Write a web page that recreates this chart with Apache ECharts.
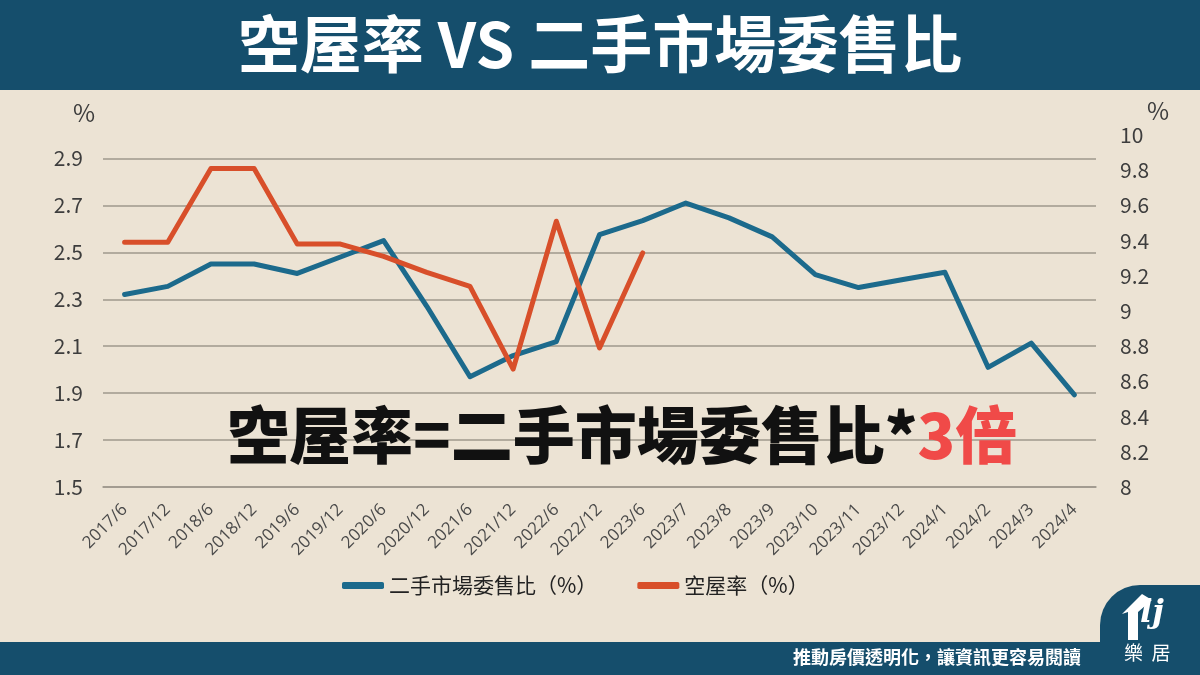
<!DOCTYPE html>
<html>
<head>
<meta charset="utf-8">
<script src="https://cdn.jsdelivr.net/npm/echarts@6/dist/echarts.min.js"></script>
<style>
html,body{margin:0;padding:0;background:#ece3d4;}
#chart{width:1200px;height:675px;}
</style>
</head>
<body>
<div id="chart"></div>
<script>
const categories = ['2017/6','2017/12','2018/6','2018/12','2019/6','2019/12','2020/6','2020/12','2021/6','2021/12','2022/6','2022/12','2023/6','2023/7','2023/8','2023/9','2023/10','2023/11','2023/12','2024/1','2024/2','2024/3','2024/4'];
const consignRatio = [2.32,2.355,2.45,2.45,2.41,2.48,2.55,2.27,1.97,2.06,2.12,2.575,2.635,2.71,2.647,2.566,2.405,2.35,2.383,2.415,2.01,2.113,1.893];
const vacancyRate = [9.39,9.39,9.81,9.81,9.38,9.38,9.31,9.22,9.14,8.67,9.51,8.79,9.33];
const leftTicks = {min:1.5, max:3.0, interval:0.2};
const rightTicks = {min:8, max:10, interval:0.2};
const seriesNames = ['二手市場委售比（%）','空屋率（%）'];

const BLUE = '#1c6a8c', RED = '#d84f2a', TEAL = '#154e6c', GRID = '#9f988d';
const FONT = '"Noto Sans CJK TC","Noto Sans",sans-serif';

const chart = echarts.init(document.getElementById('chart'));
chart.setOption({
  backgroundColor: '#ece3d4',
  textStyle: {fontFamily: FONT},
  animation: false,
  title: {
    text: '空屋率 VS 二手市場委售比',
    left: 'center', top: 8,
    textStyle: {color: '#ffffff', fontSize: 62, fontWeight: 'bold', fontFamily: FONT}
  },
  graphic: [
    {type: 'rect', z: -1, shape: {x: 0, y: 0, width: 1200, height: 90}, style: {fill: TEAL}},
    {type: 'rect', z: -1, shape: {x: 0, y: 642, width: 1200, height: 33}, style: {fill: TEAL}},
    {type: 'rect', z: -1, shape: {x: 1100, y: 585, width: 110, height: 100, r: [40, 0, 0, 0]}, style: {fill: TEAL}},
    {type: 'text', left: 793, top: 648, style: {text: '推動房價透明化，讓資訊更容易閱讀', fill: '#ffffff', font: 'bold 18px ' + FONT}},
    {type: 'text', left: 1124, top: 643, style: {text: '樂  居', fill: '#ffffff', font: '19px ' + FONT}},
    {type: 'polygon', shape: {points: [[1128,640],[1128,612],[1122,614],[1142,594],[1152,600],[1138,612],[1138,640]]}, style: {fill: '#ffffff'}},
    {type: 'text', left: 1140, top: 598, style: {text: 'lj', fill: '#ffffff', font: 'italic bold 32px "DejaVu Serif",serif'}},
    {type: 'text', left: 73, top: 101, style: {text: '%', fill: '#3d3d3d', font: '24px ' + FONT}},
    {type: 'text', left: 1147, top: 99, style: {text: '%', fill: '#3d3d3d', font: '24px ' + FONT}},
    {type: 'text', left: 227, top: 404, z: 10, style: {
      rich: {a: {fill: '#111111', font: '900 62px ' + FONT}, b: {fill: '#f04a48', font: '900 62px ' + FONT}},
      text: '{a|空屋率=二手市場委售比*}{b|3倍}'
    }}
  ],
  legend: {
    left: 337, top: 570,
    itemWidth: 42, itemHeight: 7, itemGap: 40,
    icon: 'roundRect',
    textStyle: {fontSize: 21, color: '#222222', fontFamily: FONT},
    data: seriesNames
  },
  grid: {left: 103, right: 104, top: 135, bottom: 188},
  xAxis: {
    type: 'category',
    data: categories,
    boundaryGap: true,
    axisLine: {lineStyle: {color: GRID, width: 1.5}},
    axisTick: {show: false},
    axisLabel: {rotate: 45, fontSize: 17, fontFamily: '"Open Sans",sans-serif', color: '#4a4a4a', margin: 20, interval: 0}
  },
  yAxis: [
    {
      type: 'value', position: 'left',
      min: leftTicks.min, max: leftTicks.max, interval: leftTicks.interval,
      axisLine: {show: false}, axisTick: {show: false},
      axisLabel: {fontSize: 21, color: '#3d3d3d', margin: 20, showMaxLabel: false,
        formatter: v => v.toFixed(1)},
      splitLine: {show: true, showMaxLine: false, lineStyle: {color: GRID, width: 1.5}}
    },
    {
      type: 'value', position: 'right',
      min: rightTicks.min, max: rightTicks.max, interval: rightTicks.interval,
      axisLine: {show: false}, axisTick: {show: false},
      axisLabel: {fontSize: 21, color: '#3d3d3d', margin: 24,
        formatter: v => String(Math.round(v * 10) / 10)},
      splitLine: {show: false}
    }
  ],
  series: [
    {
      name: seriesNames[0], type: 'line', yAxisIndex: 0,
      data: consignRatio, symbol: 'none', color: BLUE,
      lineStyle: {width: 5, color: BLUE, cap: 'round', join: 'round'}
    },
    {
      name: seriesNames[1], type: 'line', yAxisIndex: 1,
      data: vacancyRate, symbol: 'none', color: RED,
      lineStyle: {width: 5, color: RED, cap: 'round', join: 'round'}
    }
  ]
});
</script>
</body>
</html>
